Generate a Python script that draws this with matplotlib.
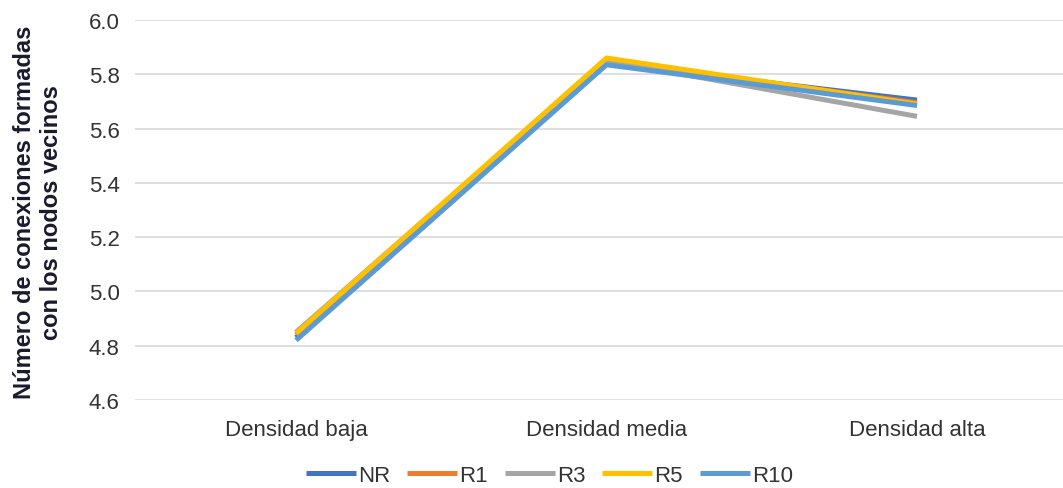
import matplotlib.pyplot as plt

plt.rcParams['font.family'] = ['Liberation Sans', 'DejaVu Sans']

categories = ["Densidad baja", "Densidad media", "Densidad alta"]
series_names = ["NR", "R1", "R3", "R5", "R10"]
nr = [4.83, 5.84, 5.705]
r1 = [4.84, 5.85, 5.695]
r3 = [4.85, 5.85, 5.645]
r5 = [4.845, 5.86, 5.69]
r10 = [4.82, 5.835, 5.685]
colors = ["#4472C4", "#ED7D31", "#A5A5A5", "#FFC000", "#5B9BD5"]
yticks = [4.6, 4.8, 5.0, 5.2, 5.4, 5.6, 5.8, 6.0]

fig = plt.figure(figsize=(10.63, 4.89), dpi=100)
ax = fig.add_axes([135 / 1063, 1 - 401 / 489, 928 / 1063, 380 / 489])

x = list(range(len(categories)))
for name, vals, c in zip(series_names, [nr, r1, r3, r5, r10], colors):
    ax.plot(x, vals, color=c, lw=3.6, label=name, solid_capstyle='butt',
            solid_joinstyle='miter')

ax.set_xlim(-0.5185, 2.47)
ax.set_ylim(4.6, 6.0)
ax.set_yticks(yticks)
ax.set_yticklabels([f"{v:.1f}" for v in yticks])
ax.set_xticks(x)
ax.set_xticklabels(categories)
ax.tick_params(axis='both', length=0, labelsize=16, colors='#333333')
ax.tick_params(axis='y', pad=11)
ax.tick_params(axis='x', pad=14)
ax.grid(axis='y', color='#D9D9D9', lw=1.2)
ax.set_axisbelow(True)
for s in ax.spines.values():
    s.set_visible(False)

fig.text(0.036, 0.565, "Número de conexiones formadas\ncon los nodos vecinos",
         rotation=90, ha='center', va='center', fontsize=17,
         fontweight='bold', color='#1a1a2e', linespacing=1.2)

leg = fig.legend(loc='center', bbox_to_anchor=(0.517, 0.026), ncol=5,
                 frameon=False, fontsize=16, handlelength=2.25,
                 handletextpad=0.1, columnspacing=0.75)
for t in leg.get_texts():
    t.set_color('#333333')

fig.savefig("out.png", dpi=100, facecolor='white')
